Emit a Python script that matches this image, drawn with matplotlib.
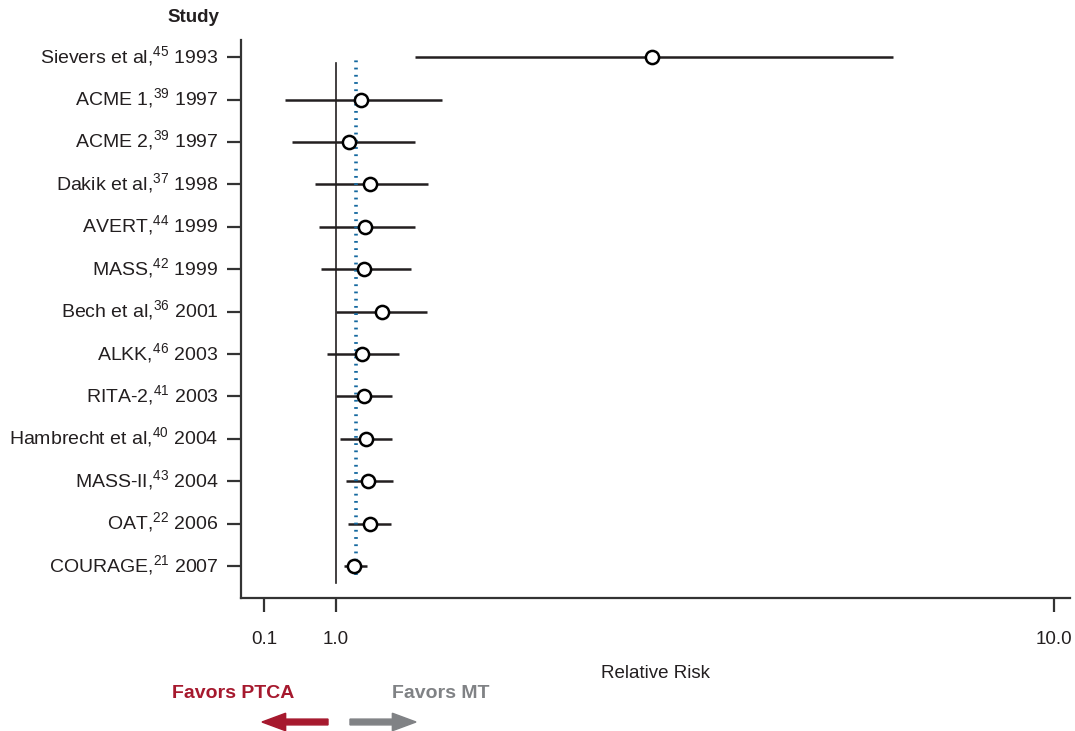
import matplotlib.pyplot as plt
from matplotlib import font_manager
from matplotlib.patches import FancyArrow
from matplotlib.transforms import ScaledTranslation

# ---- data (relative risk, 95% CI)
studies = ["Sievers et al", "ACME 1", "ACME 2", "Dakik et al", "AVERT", "MASS",
           "Bech et al", "ALKK", "RITA-2", "Hambrecht et al", "MASS-II", "OAT",
           "COURAGE"]
refs = ["45", "39", "39", "37", "44", "42", "36", "46", "41", "40", "43", "22", "21"]
years = ["1993", "1997", "1997", "1998", "1999", "1999", "2001", "2003", "2003",
         "2004", "2004", "2006", "2007"]
rr = [4.97, 1.32, 1.17, 1.43, 1.37, 1.35, 1.58, 1.33, 1.35, 1.38, 1.40, 1.43, 1.23]
lo = [2.00, 0.36, 0.45, 0.74, 0.79, 0.81, 1.00, 0.89, 1.00, 1.05, 1.13, 1.15, 1.10]
hi = [7.98, 2.33, 1.99, 2.16, 1.99, 1.94, 2.14, 1.79, 1.70, 1.70, 1.72, 1.69, 1.39]
pooled = 1.25
xticks = [0.1, 1.0, 10.0]
xticklabels = ["0.1", "1.0", "10.0"]

names = {f.name for f in font_manager.fontManager.ttflist}
BASE = "Liberation Sans"
NARROW = "Liberation Sans Narrow" if "Liberation Sans Narrow" in names else BASE
plt.rcParams["font.family"] = BASE
plt.rcParams["mathtext.fontset"] = "custom"
plt.rcParams["mathtext.rm"] = BASE
plt.rcParams["mathtext.it"] = BASE
plt.rcParams["mathtext.bf"] = BASE + ":bold"

TXT = "#231f20"
RED = "#a6192e"
GRAY = "#808285"

fig = plt.figure(figsize=(10.75, 7.31), dpi=100)
ax = fig.add_axes([0.224, 0.182, 0.771, 0.763])

n = len(studies)
ypos = [n - 1 - i for i in range(n)]

for y, r, a, b in zip(ypos, rr, lo, hi):
    ax.plot([a, b], [y, y], color=TXT, lw=1.8, zorder=2, solid_capstyle="butt")
ax.plot(rr, ypos, "o", ms=9.5, mfc="white", mec="black", mew=1.8, ls="none", zorder=4)

ax.plot([1.0, 1.0], [-0.4, 11.86], color=TXT, lw=1.2, zorder=1)
ax.plot([pooled, pooled], [-0.2, 11.93], color="#14689f", lw=2.6,
        ls=(0, (0.5, 1.5)), zorder=3)

ax.set_xlim(-0.19, 10.2)
ax.set_ylim(-0.75, 12.4)
ax.set_xticks(xticks)
ax.set_xticklabels(xticklabels, family=NARROW, fontsize=13.5, color=TXT)
ax.set_yticks(ypos)
ax.set_yticklabels([rf"{s},$^{{\mathrm{{{r}}}}}$ {yr}" for s, r, yr in zip(studies, refs, years)],
                   fontsize=14, color=TXT, va="center_baseline")
ax.tick_params(axis="both", length=10, width=1.6, color="#333333")
ax.tick_params(axis="x", pad=14)
ax.tick_params(axis="y", pad=6)
shift = ScaledTranslation(0, 3 / 72, fig.dpi_scale_trans)
for lab in ax.get_yticklabels():
    lab.set_transform(lab.get_transform() + shift)
for side in ("top", "right"):
    ax.spines[side].set_visible(False)
for side in ("left", "bottom"):
    ax.spines[side].set_linewidth(1.6)
    ax.spines[side].set_color("#333333")

ax.set_xlabel("Relative Risk", family=NARROW, fontsize=13.5, color=TXT, labelpad=12)

fig.text(193 / 1075, 1 - 18 / 731, "Study", ha="center", va="center",
         fontsize=13.5, fontweight="bold", color=TXT)
fig.text(233 / 1075, 1 - 694 / 731, "Favors PTCA", ha="center", va="center",
         family=NARROW, fontsize=14, fontweight="bold", color=RED)
fig.text(441 / 1075, 1 - 694 / 731, "Favors MT", ha="center", va="center",
         family=NARROW, fontsize=14, fontweight="bold", color=GRAY)

ya = 1 - 722 / 731
fig.patches.append(FancyArrow(328 / 1075, ya, -66 / 1075, 0, width=0.008,
                              head_width=0.024, head_length=0.022,
                              length_includes_head=True, color=RED,
                              transform=fig.transFigure, figure=fig))
fig.patches.append(FancyArrow(350 / 1075, ya, 66 / 1075, 0, width=0.008,
                              head_width=0.024, head_length=0.022,
                              length_includes_head=True, color=GRAY,
                              transform=fig.transFigure, figure=fig))

fig.savefig("out.png", dpi=100)
